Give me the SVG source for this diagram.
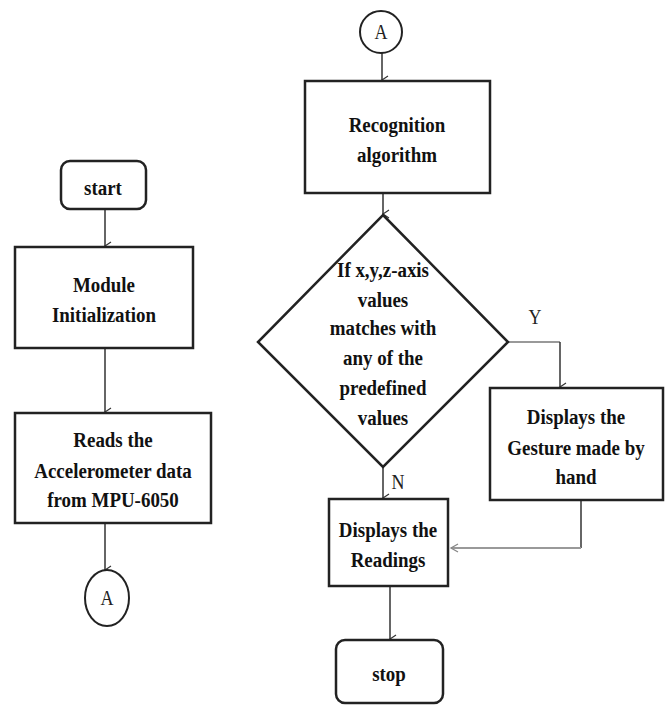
<svg xmlns="http://www.w3.org/2000/svg" width="670" height="706" viewBox="0 0 670 706">
<defs>
<style>
.box{fill:#fff;stroke:#222;stroke-width:2.5}
.ln{fill:none;stroke:#333;stroke-width:1.5}
.lg{fill:none;stroke:#999;stroke-width:2}
.t{font-family:"Liberation Serif","Times New Roman",serif;font-weight:bold;font-size:21.5px;fill:#111;text-anchor:middle}
.lb{font-family:"Liberation Serif","Times New Roman",serif;font-size:20px;fill:#222;text-anchor:middle}
</style>
<marker id="ah" markerWidth="10" markerHeight="10" refX="5" refY="9" orient="auto" markerUnits="userSpaceOnUse" viewBox="0 0 10 10">
<path d="M1,3 L5,9 L9,3" fill="none" stroke="#333" stroke-width="1.2"/>
</marker>
</defs>
<g id="connectors">
<line class="ln" x1="105" y1="209" x2="105" y2="246" marker-end="url(#ah)"/>
<line class="ln" x1="105" y1="348" x2="105" y2="412" marker-end="url(#ah)"/>
<line class="ln" x1="105" y1="523" x2="105" y2="570" marker-end="url(#ah)"/>
<line class="ln" x1="382" y1="53" x2="382" y2="80" marker-end="url(#ah)"/>
<line class="ln" x1="383" y1="193" x2="383" y2="214" marker-end="url(#ah)"/>
<line class="ln" x1="383" y1="467" x2="383" y2="498" marker-end="url(#ah)"/>
<polyline class="lg" points="508,342 560,342"/>
<line class="ln" x1="560" y1="342" x2="560" y2="387" marker-end="url(#ah)"/>
<line class="ln" x1="581" y1="500" x2="581" y2="548"/>
<polyline class="lg" points="581,548 451,548"/>
<path d="M458,544 L451,548 L458,552" fill="none" stroke="#888" stroke-width="1.3"/>
<line class="ln" x1="390" y1="586" x2="390" y2="639" marker-end="url(#ah)"/>
<text class="lb" transform="translate(535 0) scale(0.9 1)" x="0" y="324">Y</text>
<text class="lb" transform="translate(398 0) scale(0.9 1)" x="0" y="489">N</text>
</g>
<g id="start">
<rect class="box" x="61" y="161" width="85" height="48" rx="9"/>
<text class="t" transform="translate(103 0) scale(0.88 1)" x="0" y="195">start</text>
</g>
<g id="module">
<rect class="box" x="15" y="247" width="178" height="101"/>
<text class="t" transform="translate(104 0) scale(0.88 1)" x="0" y="292">Module</text>
<text class="t" transform="translate(104 0) scale(0.88 1)" x="0" y="322">Initialization</text>
</g>
<g id="reads">
<rect class="box" x="15" y="413" width="196" height="110"/>
<text class="t" transform="translate(113 0) scale(0.88 1)" x="0" y="447">Reads the</text>
<text class="t" transform="translate(113 0) scale(0.88 1)" x="0" y="478">Accelerometer data</text>
<text class="t" transform="translate(113 0) scale(0.88 1)" x="0" y="507">from MPU-6050</text>
</g>
<g id="connA1">
<ellipse cx="107" cy="598" rx="22" ry="28" fill="#fff" stroke="#222" stroke-width="2"/>
<text class="lb" transform="translate(107 0) scale(0.9 1)" x="0" y="605">A</text>
</g>
<g id="connA2">
<circle cx="381" cy="32" r="21" fill="#fff" stroke="#222" stroke-width="2"/>
<text class="lb" transform="translate(381 0) scale(0.9 1)" x="0" y="39">A</text>
</g>
<g id="recognition">
<rect class="box" x="305" y="81" width="185" height="112"/>
<text class="t" transform="translate(397 0) scale(0.88 1)" x="0" y="132">Recognition</text>
<text class="t" transform="translate(397 0) scale(0.88 1)" x="0" y="162">algorithm</text>
</g>
<g id="decision">
<polygon class="box" points="383,215 508,342 383,467 258,342"/>
<text class="t" transform="translate(383 0) scale(0.88 1)" x="0" y="277">If x,y,z-axis</text>
<text class="t" transform="translate(383 0) scale(0.88 1)" x="0" y="307">values</text>
<text class="t" transform="translate(383 0) scale(0.88 1)" x="0" y="335">matches with</text>
<text class="t" transform="translate(383 0) scale(0.88 1)" x="0" y="365">any of the</text>
<text class="t" transform="translate(383 0) scale(0.88 1)" x="0" y="395">predefined</text>
<text class="t" transform="translate(383 0) scale(0.88 1)" x="0" y="425">values</text>
</g>
<g id="gesture">
<rect class="box" x="490" y="388" width="173" height="112"/>
<text class="t" transform="translate(576 0) scale(0.88 1)" x="0" y="424">Displays the</text>
<text class="t" transform="translate(576 0) scale(0.88 1)" x="0" y="455">Gesture made by</text>
<text class="t" transform="translate(576 0) scale(0.88 1)" x="0" y="484">hand</text>
</g>
<g id="readings">
<rect class="box" x="329" y="499" width="119" height="87"/>
<text class="t" transform="translate(388 0) scale(0.88 1)" x="0" y="537">Displays the</text>
<text class="t" transform="translate(388 0) scale(0.88 1)" x="0" y="567">Readings</text>
</g>
<g id="stop">
<rect class="box" x="336" y="640" width="107" height="63" rx="9"/>
<text class="t" transform="translate(389 0) scale(0.88 1)" x="0" y="681">stop</text>
</g>
</svg>
